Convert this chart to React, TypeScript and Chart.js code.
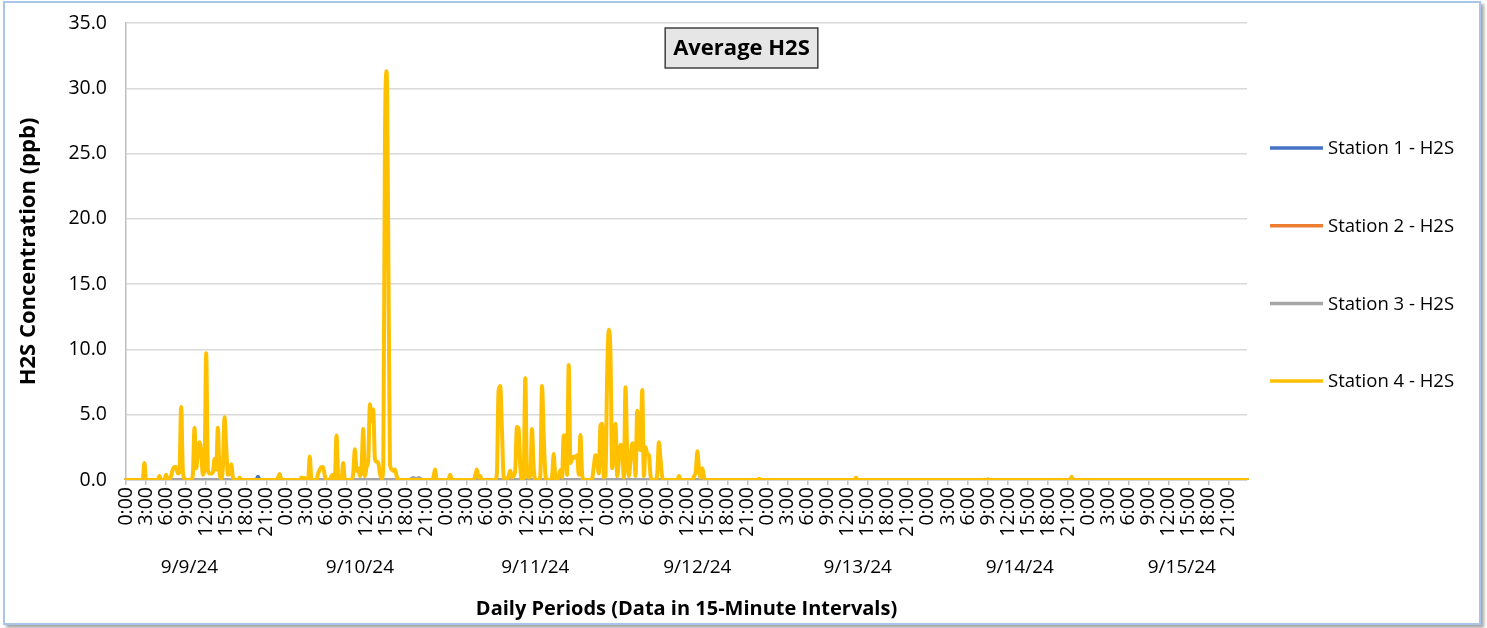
import React, { useEffect, useRef } from 'react';
import { Chart, registerables } from 'chart.js';

Chart.register(...registerables);

// ---------- data ----------
const dayLabels = ['9/9/24', '9/10/24', '9/11/24', '9/12/24', '9/13/24', '9/14/24', '9/15/24'];
// where the date captions sit on the interval axis (interval index)
const dayLabelIndex = [38, 140, 245, 342, 438, 535, 632];
const intervalsPerDay = 96;

const seriesNames = ['Station 1 - H2S', 'Station 2 - H2S', 'Station 3 - H2S', 'Station 4 - H2S'];
const seriesColors = ['#4472C4', '#ED7D31', '#A5A5A5', '#FFC000'];

// non-zero readings as [interval index, ppb]; all other intervals read 0.0
const station1Readings: [number, number][] = [[79, 0.25]];
const station2Readings: [number, number][] = [];
const station3Readings: [number, number][] = [[171, 0.1], [172, 0.15], [173, 0.1], [175, 0.15], [176, 0.1]];

const station4Day1: [number, number][] = [
  [11, 1.3], [20, 0.3], [24, 0.4], [27, 0.3], [28, 0.8], [29, 1.0], [30, 1.0], [31, 0.5], [32, 0.6],
  [33, 5.6], [34, 0.8], [35, 0.1], [40, 0.4], [41, 4.0], [42, 0.9], [43, 2.0], [44, 2.9], [45, 2.2],
  [46, 0.4], [47, 0.8], [48, 9.7], [49, 0.8], [50, 0.5], [51, 0.5], [52, 0.6], [53, 1.6], [54, 0.8],
  [55, 4.0], [56, 0.5], [57, 0.1], [58, 1.0], [59, 4.8], [60, 2.5], [61, 0.4], [62, 0.5], [63, 1.2],
  [64, 0.2], [68, 0.2], [91, 0.2], [92, 0.45],
];
const station4Day2: [number, number][] = [
  [105, 0.2], [106, 0.15], [107, 0.15], [110, 1.8], [115, 0.5], [116, 0.8], [117, 1.0], [118, 1.0],
  [119, 0.3], [123, 0.3], [124, 0.4], [126, 3.4], [127, 0.3], [130, 1.3], [136, 0.5], [137, 2.35],
  [138, 0.7], [139, 0.9], [140, 0.3], [141, 1.0], [142, 3.9], [143, 0.3], [144, 1.0], [145, 1.5],
  [146, 5.8], [147, 4.5], [148, 5.4], [149, 1.6], [150, 1.4], [151, 1.3], [152, 0.5], [153, 0.1],
  [154, 1.0], [155, 26.0], [156, 31.3], [157, 18.0], [158, 1.2], [159, 0.8], [160, 0.7], [161, 0.8],
  [162, 0.3], [184, 0.2], [185, 0.8],
];
const station4Day3: [number, number][] = [
  [194, 0.4], [209, 0.3], [210, 0.8], [211, 0.2], [212, 0.3], [222, 0.5], [223, 6.8], [224, 7.2],
  [225, 4.0], [226, 0.3], [229, 0.3], [230, 0.7], [231, 0.2], [232, 0.3], [233, 0.8], [234, 4.05],
  [235, 3.9], [236, 1.0], [238, 0.2], [239, 7.8], [240, 0.5], [241, 0.2], [242, 0.3], [243, 3.9],
  [244, 1.0], [248, 0.3], [249, 7.2], [250, 3.5], [251, 0.5], [255, 0.2], [256, 2.0], [257, 0.2],
  [259, 0.3], [260, 0.75], [261, 0.2], [262, 3.4], [263, 3.4], [264, 0.4], [265, 8.8], [266, 1.3],
  [267, 1.6], [268, 1.8], [269, 1.7], [270, 1.9], [271, 0.4], [272, 3.45], [273, 0.5], [279, 0.1],
  [280, 1.0], [281, 1.9], [282, 1.7], [283, 0.5], [284, 4.2], [285, 4.3], [286, 0.2],
];
const station4Day4to7: [number, number][] = [
  [287, 0.3], [288, 8.0], [289, 11.5], [290, 9.6], [291, 0.9], [292, 2.5], [293, 4.3], [294, 0.3],
  [295, 1.5], [296, 2.7], [297, 2.6], [298, 0.2], [299, 7.1], [300, 2.0], [301, 0.3], [302, 1.5],
  [303, 2.8], [304, 2.8], [305, 0.3], [306, 5.3], [307, 2.5], [308, 2.3], [309, 6.9], [310, 0.3],
  [311, 2.5], [312, 2.0], [313, 1.9], [314, 0.3], [318, 0.5], [319, 2.9], [320, 1.5], [321, 0.2],
  [331, 0.3], [340, 0.3], [341, 0.6], [342, 2.2], [343, 0.8], [344, 0.2], [345, 0.9], [346, 0.2],
  [379, 0.1], [437, 0.2], [516, 0.05], [566, 0.25],
];

const yMin = 0;
const yMax = 35;
const yStep = 5;

const chartTitle = 'Average H2S';
const xTitle = 'Daily Periods (Data in 15-Minute Intervals)';
const yTitle = 'H2S Concentration (ppb)';

// ---------- derived ----------
const timeLabels: string[] = [];
dayLabels.forEach(() => {
  for (let i = 0; i < intervalsPerDay; i++) {
    timeLabels.push(`${Math.floor(i / 4)}:${String((i % 4) * 15).padStart(2, '0')}`);
  }
});
const nPoints = timeLabels.length;

const toSeries = (readings: [number, number][]) => {
  const arr = new Array(nPoints).fill(0);
  readings.forEach(([i, v]) => {
    arr[i] = v;
  });
  return arr;
};

const seriesData = [
  toSeries(station1Readings),
  toSeries(station2Readings),
  toSeries(station3Readings),
  toSeries([...station4Day1, ...station4Day2, ...station4Day3, ...station4Day4to7]),
];

const FONT = "'Open Sans', sans-serif";

const overlayPlugin = {
  id: 'overlay',
  afterDraw(chart: any) {
    const ctx = chart.ctx as CanvasRenderingContext2D;
    const area = chart.chartArea;
    ctx.save();
    // chart title in a box
    ctx.font = `bold 22px ${FONT}`;
    const tw = ctx.measureText(chartTitle).width;
    const cx = chart.width / 2 - 2;
    const cy = 48;
    const bw = tw + 16;
    const bh = 40;
    ctx.fillStyle = '#e7e6e6';
    ctx.fillRect(cx - bw / 2, cy - bh / 2, bw, bh);
    ctx.strokeStyle = '#404040';
    ctx.lineWidth = 1.5;
    ctx.strokeRect(cx - bw / 2, cy - bh / 2, bw, bh);
    ctx.fillStyle = '#000';
    ctx.textAlign = 'center';
    ctx.textBaseline = 'middle';
    ctx.fillText(chartTitle, cx, cy + 1);

    // legend
    const lx = area.right + 23;
    const ly0 = 148;
    const gap = 77.7;
    ctx.font = `18.5px ${FONT}`;
    ctx.textAlign = 'left';
    chart.data.datasets.forEach((ds: any, i: number) => {
      const y = ly0 + i * gap;
      ctx.strokeStyle = ds.borderColor;
      ctx.lineWidth = 3.5;
      ctx.beginPath();
      ctx.moveTo(lx, y);
      ctx.lineTo(lx + 53, y);
      ctx.stroke();
      ctx.fillStyle = '#000';
      ctx.fillText(ds.label, lx + 58, y + 1);
    });
    ctx.restore();
  },
};

export default function App() {
  const canvasRef = useRef<HTMLCanvasElement | null>(null);

  useEffect(() => {
    if (!canvasRef.current) return;
    const chart = new Chart(canvasRef.current, {
      type: 'line',
      data: {
        labels: timeLabels,
        datasets: seriesNames.map((name, i) => ({
          label: name,
          data: seriesData[i],
          borderColor: seriesColors[i],
          backgroundColor: seriesColors[i],
          borderWidth: 4,
          pointRadius: 0,
          cubicInterpolationMode: 'monotone' as const,
          borderJoinStyle: 'round' as const,
          borderCapStyle: 'round' as const,
          order: seriesNames.length - 1 - i,
          xAxisID: 'x',
          yAxisID: 'y',
        })),
      },
      options: {
        responsive: false,
        animation: false,
        events: [],
        layout: { padding: { left: 14, top: 23, right: 240, bottom: 0 } },
        plugins: {
          legend: { display: false },
          tooltip: { enabled: false },
          title: { display: false },
        },
        scales: {
          x: {
            type: 'category',
            offset: false,
            weight: 0,
            grid: {
              display: true,
              drawOnChartArea: false,
              drawTicks: true,
              tickLength: 5,
              color: '#bfbfbf',
              lineWidth: 1.5,
            },
            border: { display: true, color: '#bfbfbf', width: 1.5 },
            ticks: {
              autoSkip: false,
              minRotation: 90,
              maxRotation: 90,
              padding: 2,
              color: '#000',
              font: { family: FONT, size: 19.5 },
            },
            afterBuildTicks: (s: any) => {
              s.ticks = s.ticks.filter((t: any) => t.value % 12 === 0);
            },
            afterFit: (s: any) => {
              s.height = 56;
            },
          },
          x2: {
            type: 'linear',
            position: 'bottom',
            min: 0,
            max: nPoints - 1,
            weight: 1,
            grid: { display: false },
            border: { display: false },
            afterBuildTicks: (s: any) => {
              s.ticks = dayLabelIndex.map((v) => ({ value: v }));
            },
            ticks: {
              autoSkip: false,
              maxRotation: 0,
              padding: 12,
              color: '#000',
              font: { family: FONT, size: 19 },
              callback: (_v: any, i: number) => dayLabels[i],
            },
            title: {
              display: true,
              text: xTitle,
              color: '#000',
              font: { family: FONT, size: 20, weight: 'bold' },
              padding: { top: 0, bottom: 7 },
            },
            afterFit: (s: any) => {
              s.height = 92;
            },
          },
          y: {
            min: yMin,
            max: yMax,
            ticks: {
              stepSize: yStep,
              padding: 0,
              color: '#000',
              font: { family: FONT, size: 19.5 },
              callback: (v: any) => Number(v).toFixed(1),
            },
            grid: {
              color: '#d9d9d9',
              lineWidth: 1.5,
              drawTicks: true,
              tickLength: 19,
              tickColor: 'rgba(0,0,0,0)',
            },
            border: { display: true, color: '#bfbfbf', width: 1.5 },
            title: {
              display: true,
              text: yTitle,
              color: '#000',
              font: { family: FONT, size: 22, weight: 'bold' },
              padding: { top: 2, bottom: 0 },
            },
            afterFit: (s: any) => {
              s.width = 112;
            },
          },
        },
      } as any,
      plugins: [overlayPlugin],
    });
    return () => chart.destroy();
  }, []);

  return (
    <div
      style={{
        position: 'fixed',
        left: 0,
        top: 0,
        width: 1487,
        height: 628,
        background: '#ffffff',
        overflow: 'hidden',
      }}
    >
      <div
        style={{
          position: 'absolute',
          left: 3,
          top: 1,
          width: 1474,
          height: 620,
          border: '2px solid #a9c6e8',
          boxShadow: '3px 3px 3px rgba(0,0,0,0.35)',
          background: '#ffffff',
        }}
      />
      <canvas
        ref={canvasRef}
        width={1487}
        height={628}
        style={{ position: 'absolute', left: 0, top: 0, width: 1487, height: 628 }}
      />
    </div>
  );
}
